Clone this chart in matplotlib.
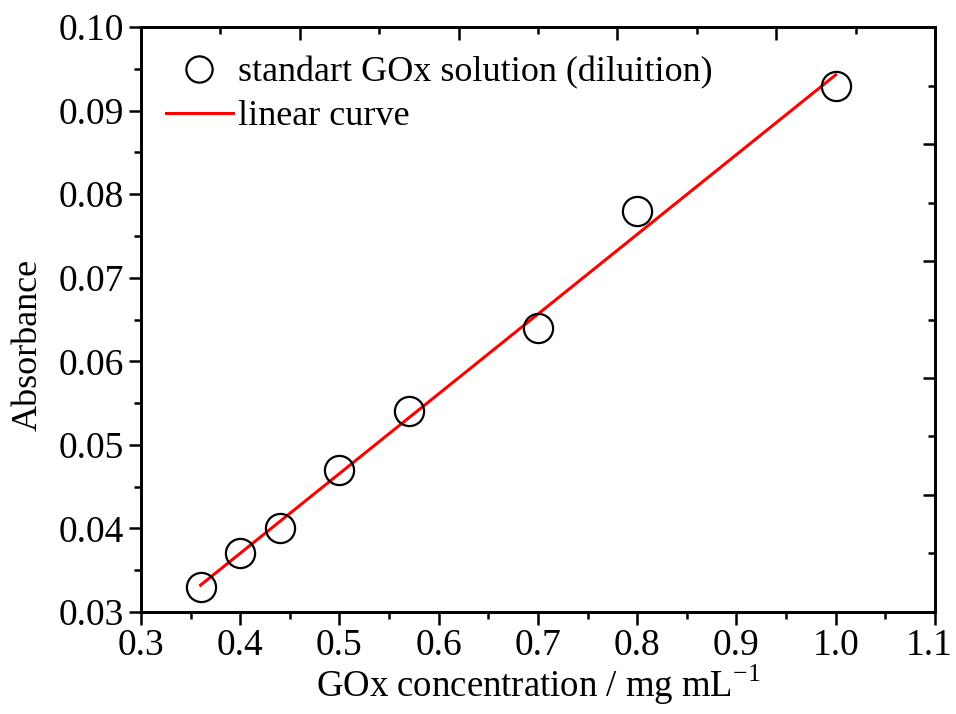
import numpy as np
import matplotlib
matplotlib.use("Agg")
import matplotlib.pyplot as plt
import matplotlib.transforms as mtransforms
from matplotlib.ticker import MultipleLocator

plt.rcParams["font.family"] = ["Liberation Serif", "DejaVu Serif"]
plt.rcParams["mathtext.fontset"] = "custom"
plt.rcParams["mathtext.rm"] = "Liberation Serif"

# standard GOx dilutions
conc = [0.36, 0.40, 0.44, 0.50, 0.57, 0.70, 0.80, 1.00]
absorb = [0.033, 0.037, 0.040, 0.047, 0.054, 0.064, 0.078, 0.093]

# least-squares line through the standards
slope, intercept = np.polyfit(conc, absorb, 1)
fit_x = np.array([min(conc), max(conc)])
fit_y = slope * fit_x + intercept

fig = plt.figure(figsize=(9.56, 7.14), dpi=100)
ax = fig.add_axes([0.1475, 0.143, 0.8305, 0.819])

ax.plot(conc, absorb, "o", ms=21, mfc="none", mec="black", mew=1.6,
        label="standart GOx solution (diluition)", zorder=3)
ax.plot(fit_x, fit_y, "-", color="red", lw=2.2, label="linear curve", zorder=2)

ax.set_xlim(0.3, 1.1)
ax.set_ylim(0.03, 0.10)
ax.xaxis.set_major_locator(MultipleLocator(0.1))
ax.xaxis.set_minor_locator(MultipleLocator(0.05))
ax.yaxis.set_major_locator(MultipleLocator(0.01))
ax.yaxis.set_minor_locator(MultipleLocator(0.005))
ax.xaxis.set_major_formatter(plt.FuncFormatter(lambda v, p: f"{v:.1f}"))
ax.yaxis.set_major_formatter(plt.FuncFormatter(lambda v, p: f"{v:.2f}"))

ax.tick_params(which="major", direction="out", length=9, width=1.8,
               labelsize=27, pad=3)
ax.tick_params(which="minor", direction="out", length=5, width=1.8)
for s in ax.spines.values():
    s.set_linewidth(1.8)

ax.set_xlabel("GOx concentration / mg mL$^{\\mathregular{-1}}$", fontsize=26.5, labelpad=0)
ax.set_ylabel("Absorbance", fontsize=26)
ax.yaxis.set_label_coords(-0.121, 0.456)

# top and right frame axes with their own 0-10 tick scale
top = ax.twiny()
top.set_xlim(0, 10)
top.xaxis.set_major_locator(MultipleLocator(2))
top.xaxis.set_minor_locator(MultipleLocator(1))
top.tick_params(axis="x", which="major", direction="in", length=9, width=1.8,
                labeltop=False)
top.tick_params(axis="x", which="minor", direction="in", length=5, width=1.8)

right = ax.twinx()
right.set_ylim(0, 10)
right.yaxis.set_major_locator(MultipleLocator(2))
right.yaxis.set_minor_locator(MultipleLocator(1))
right.tick_params(axis="y", which="major", direction="in", length=9, width=1.8,
                  labelright=False)
right.tick_params(axis="y", which="minor", direction="in", length=5, width=1.8)
for a in (top, right):
    for s in a.spines.values():
        s.set_linewidth(1.8)

ax.legend(loc="upper left", frameon=False, fontsize=26, handlelength=1.85,
          handletextpad=0.15, labelspacing=0.3, borderaxespad=0.4,
          bbox_to_anchor=(-0.005, 1.0), markerscale=0.9)

# nudge the last x label so it stays inside the figure
fig.canvas.draw()
last = ax.xaxis.get_major_ticks()[-1].label1
for t in ax.xaxis.get_major_ticks():
    if t.label1.get_text() == "1.1":
        last = t.label1
last.set_transform(last.get_transform()
                   + mtransforms.ScaledTranslation(-4 / 72, 0, fig.dpi_scale_trans))

fig.savefig("out.png", dpi=100)
